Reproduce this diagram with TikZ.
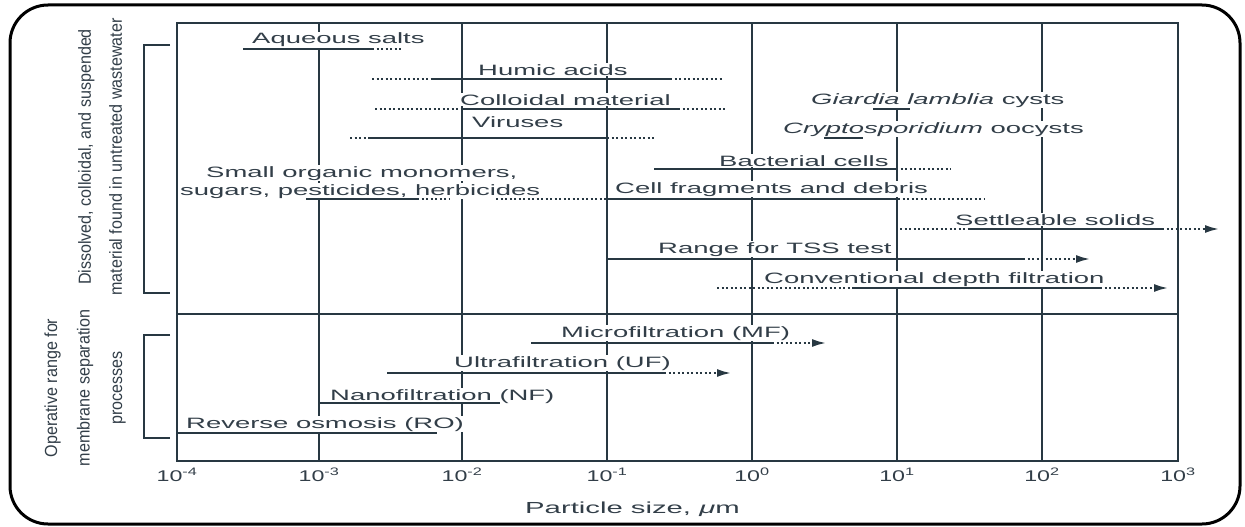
\documentclass[tikz,border=0pt]{standalone}
\usepackage{fontspec}
\setmainfont{Liberation Sans}
\newfontfamily\lblfont[FakeStretch=1.83]{Liberation Sans}
\newfontfamily\tickfont[FakeStretch=1.5]{Liberation Sans}
\newfontfamily\sidefont[FakeStretch=0.92]{Liberation Sans}
\usepackage{tikz}
\usetikzlibrary{arrows.meta}
\definecolor{ink}{RGB}{40,56,66}
\definecolor{txt}{RGB}{50,62,72}
\tikzstyle{solidrange} = [draw=ink, line width=2.5pt]
\tikzstyle{dotrange} = [draw=ink, line width=2pt, dash pattern=on 2pt off 2.5pt]
\tikzstyle{arrowtip} = [-{Latex[length=14pt,width=8pt]}]
\tikzstyle{gridline} = [draw=ink, line width=1.8pt]
\tikzstyle{lbl} = [anchor=base west, inner sep=1pt, fill=white, text=txt, font=\lblfont\fontsize{15}{18}\selectfont]
\tikzstyle{ticklbl} = [anchor=base, inner sep=1pt, text=txt, font=\tickfont\fontsize{15.5}{18}\selectfont]
\tikzstyle{sidelbl} = [rotate=90, align=center, inner sep=0pt, text=txt]

\begin{document}
\begin{tikzpicture}[x=1pt,y=-1pt]
	\useasboundingbox (0,0) rectangle (1245,527);

	% frame
	\draw[line width=3pt, rounded corners=38pt] (10,5) rectangle (1240,524);
	\draw[ink, line width=1.6pt] (177,23) rectangle (1178,461);
	\draw[ink, line width=1.6pt] (177,314) -- (1178,314);

	% grid
	\draw[gridline] (319,23) -- (319,461);
	\draw[gridline] (462,23) -- (462,461);
	\draw[gridline] (607,23) -- (607,461);
	\draw[gridline] (752,23) -- (752,461);
	\draw[gridline] (897,23) -- (897,461);
	\draw[gridline] (1042,23) -- (1042,461);

	% brackets
	\draw[ink, line width=1.6pt] (170,45) -- (144,45) -- (144,293) -- (170,293);
	\draw[ink, line width=1.6pt] (170,335) -- (144,335) -- (144,438) -- (170,438);

	% side labels
	\node[sidelbl, font=\sidefont\fontsize{17.5}{31}\selectfont] (diss) at (100,157) {Dissolved, colloidal, and suspended\\material found in untreated wastewater};
	\node[sidelbl, font=\sidefont\fontsize{17.5}{32.5}\selectfont] (oper) at (85,388) {Operative range for\\membrane separation\\processes};

	% axis
	\node[ticklbl] (t4) at (177,481) {10\textsuperscript{-4}};
	\node[ticklbl] (t3) at (319,481) {10\textsuperscript{-3}};
	\node[ticklbl] (t2) at (462,481) {10\textsuperscript{-2}};
	\node[ticklbl] (t1) at (607,481) {10\textsuperscript{-1}};
	\node[ticklbl] (t0) at (752,481) {10\textsuperscript{0}};
	\node[ticklbl] (p1) at (897,481) {10\textsuperscript{1}};
	\node[ticklbl] (p2) at (1042,481) {10\textsuperscript{2}};
	\node[ticklbl] (p3) at (1178,481) {10\textsuperscript{3}};
	\node[lbl, fill=none, font=\lblfont\fontsize{16}{18}\selectfont] (xlab) at (524,513) {Particle size, {\itshape μ}m};

	% nodes
	\node[lbl] (aq) at (251,44) {Aqueous salts};
	\node[lbl] (hu) at (477,75) {Humic acids};
	\node[lbl] (co) at (459,105) {Colloidal material};
	\node[lbl] (vi) at (471,127) {Viruses};
	\node[lbl] (gi) at (810,104) {\textit{Giardia lamblia} cysts};
	\node[lbl] (cr) at (782,133) {\textit{Cryptosporidium} oocysts};
	\node[lbl] (ba) at (718,166) {Bacterial cells};
	\node[lbl] (so1) at (205,177) {Small organic monomers,};
	\node[lbl] (so2) at (179,195) {sugars, pesticides, herbicides};
	\node[lbl] (ce) at (614,193) {Cell fragments and debris};
	\node[lbl] (se) at (954,225) {Settleable solids};
	\node[lbl] (ts) at (657,253) {Range for TSS test};
	\node[lbl] (cv) at (763,283) {Conventional depth filtration};
	\node[lbl] (mf) at (560,337) {Microfiltration (MF)};
	\node[lbl] (uf) at (453,367) {Ultrafiltration (UF)};
	\node[lbl] (nf) at (329,400) {Nanofiltration (NF)};
	\node[lbl] (ro) at (185,428) {Reverse osmosis (RO)};

	% range ends
	\coordinate (aq0) at (243,49);  \coordinate (aq1) at (372,49);  \coordinate (aq2) at (403,49);
	\coordinate (hu0) at (372,79);  \coordinate (hu1) at (433,79);  \coordinate (hu2) at (670,79);  \coordinate (hu3) at (723,79);
	\coordinate (co0) at (375,109); \coordinate (co1) at (462,109); \coordinate (co2) at (678,109); \coordinate (co3) at (727,109);
	\coordinate (vi0) at (350,138); \coordinate (vi1) at (368,138); \coordinate (vi2) at (607,138); \coordinate (vi3) at (654,138);
	\coordinate (gi0) at (873,109); \coordinate (gi1) at (910,109);
	\coordinate (cr0) at (824,138); \coordinate (cr1) at (863,138);
	\coordinate (ba0) at (654,169); \coordinate (ba1) at (896,169); \coordinate (ba2) at (951,169);
	\coordinate (so0) at (306,199); \coordinate (so1e) at (417,199); \coordinate (so2e) at (450,199);
	\coordinate (ce0) at (496,199); \coordinate (ce1) at (607,199); \coordinate (ce2) at (898,199); \coordinate (ce3) at (984,199);
	\coordinate (se0) at (900,229); \coordinate (se1) at (969,229); \coordinate (se2) at (1162,229); \coordinate (se3) at (1219,229);
	\coordinate (ts0) at (607,259); \coordinate (ts1) at (1023,259); \coordinate (ts2) at (1090,259);
	\coordinate (cv0) at (717,288); \coordinate (cv1) at (852,288); \coordinate (cv2) at (1100,288); \coordinate (cv3) at (1168,288);
	\coordinate (mf0) at (531,343); \coordinate (mf1) at (772,343); \coordinate (mf2) at (826,343);
	\coordinate (uf0) at (387,373); \coordinate (uf1) at (664,373); \coordinate (uf2) at (731,373);
	\coordinate (nf0) at (319,403); \coordinate (nf1) at (500,403);
	\coordinate (ro0) at (177,433); \coordinate (ro1) at (437,433);

	% ranges
	\draw[solidrange] (aq0) -- (aq1);
	\draw[dotrange] (aq1) -- (aq2);
	\draw[dotrange] (hu0) -- (hu1);
	\draw[solidrange] (hu1) -- (hu2);
	\draw[dotrange] (hu2) -- (hu3);
	\draw[dotrange] (co0) -- (co1);
	\draw[solidrange] (co1) -- (co2);
	\draw[dotrange] (co2) -- (co3);
	\draw[dotrange] (vi0) -- (vi1);
	\draw[solidrange] (vi1) -- (vi2);
	\draw[dotrange] (vi2) -- (vi3);
	\draw[solidrange] (gi0) -- (gi1);
	\draw[solidrange] (cr0) -- (cr1);
	\draw[solidrange] (ba0) -- (ba1);
	\draw[dotrange] (ba1) -- (ba2);
	\draw[solidrange] (so0) -- (so1e);
	\draw[dotrange] (so1e) -- (so2e);
	\draw[dotrange] (ce0) -- (ce1);
	\draw[solidrange] (ce1) -- (ce2);
	\draw[dotrange] (ce2) -- (ce3);
	\draw[dotrange] (se0) -- (se1);
	\draw[solidrange] (se1) -- (se2);
	\draw[dotrange, arrowtip] (se2) -- (se3);
	\draw[solidrange] (ts0) -- (ts1);
	\draw[dotrange, arrowtip] (ts1) -- (ts2);
	\draw[dotrange] (cv0) -- (cv1);
	\draw[solidrange] (cv1) -- (cv2);
	\draw[dotrange, arrowtip] (cv2) -- (cv3);
	\draw[solidrange] (mf0) -- (mf1);
	\draw[dotrange, arrowtip] (mf1) -- (mf2);
	\draw[solidrange] (uf0) -- (uf1);
	\draw[dotrange, arrowtip] (uf1) -- (uf2);
	\draw[solidrange] (nf0) -- (nf1);
	\draw[solidrange] (ro0) -- (ro1);

\end{tikzpicture}
\end{document}
